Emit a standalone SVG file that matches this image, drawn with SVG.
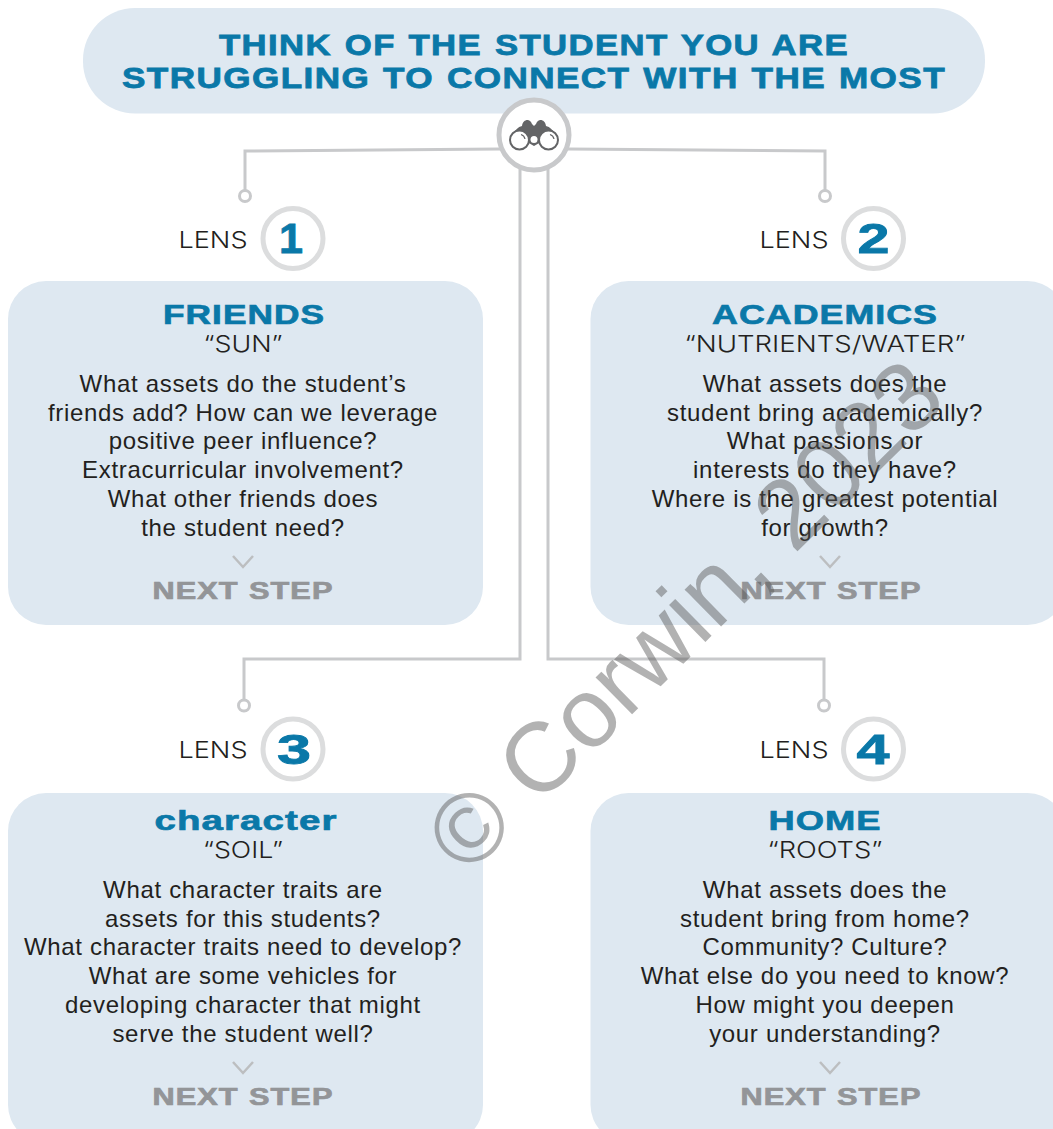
<svg xmlns="http://www.w3.org/2000/svg" width="1053" height="1129" viewBox="0 0 1053 1129">
<style>
text{font-family:"Liberation Sans",Arial,sans-serif;text-anchor:middle}
.box{fill:#dee8f1}
.wire{fill:none;stroke:#c8c9cb;stroke-width:3}
.title{font-size:30px;font-weight:bold;fill:#0a78a8;stroke:#0a78a8;stroke-width:.8px;letter-spacing:1.2px;word-spacing:1.5px}
.head{font-size:28px;font-weight:bold;fill:#0a78a8;stroke:#0a78a8;stroke-width:.7px;letter-spacing:.8px}
.sub{font-family:Inter,"Liberation Sans",sans-serif;font-weight:300;font-size:22.5px;fill:#231f20}
.body{font-size:24px;letter-spacing:.68px;fill:#231f20}
.lens{font-family:Inter,"Liberation Sans",sans-serif;font-weight:300;font-size:22.5px;fill:#231f20}
.num{font-size:42px;font-weight:bold;fill:#0a78a8;stroke:#0a78a8;stroke-width:.8px}
.ring{fill:#fff;stroke:#dcddde;stroke-width:5}
.next{font-size:23px;font-weight:bold;fill:#939598;stroke:#939598;stroke-width:.7px;letter-spacing:.8px;word-spacing:.5px}
.chev{fill:none;stroke:#bcbec0;stroke-width:2.5}
.dot{fill:#fff;stroke:#c8c9cb;stroke-width:3}
</style>
<g id="title">
<rect class="box" x="83" y="8" width="902" height="105.500" rx="52"/>
<text class="title" x="534" y="55" textLength="630" lengthAdjust="spacingAndGlyphs">THINK OF THE STUDENT YOU ARE</text>
<text class="title" x="534" y="87.500" textLength="824" lengthAdjust="spacingAndGlyphs">STRUGGLING TO CONNECT WITH THE MOST</text>
</g>
<g id="connectors">
<path class="wire" d="M245 190V151L500 149"/>
<path class="wire" d="M568 149L825 151V190"/>
<path class="wire" d="M520 165V659H244V700"/>
<path class="wire" d="M548 165V659H824V700"/>
<circle class="dot" cx="245" cy="196" r="5.500"/>
<circle class="dot" cx="825" cy="196" r="5.500"/>
<circle class="dot" cx="244" cy="705.500" r="5.500"/>
<circle class="dot" cx="824" cy="705.500" r="5.500"/>
</g>
<g id="hub">
<circle cx="534" cy="135" r="35" fill="#fff" stroke="#c8c9cb" stroke-width="5"/>
<path d="M513 134C515 130 518 127 522 126C523 119 530 118 532 124L534 126L536 124C538 118 545 119 546 126C550 127 553 130 555 134L534 146Z" fill="#636466"/>
<circle cx="519.500" cy="140" r="9.500" fill="#fff" stroke="#636466" stroke-width="2"/>
<circle cx="548.500" cy="140" r="9.500" fill="#fff" stroke="#636466" stroke-width="2"/>
<path d="M521 134.500A6 6 0 0 1 525 139M550 134.500A6 6 0 0 1 554 139" fill="none" stroke="#636466" stroke-width="1.200"/>
<circle cx="534" cy="139.500" r="3.500" fill="#fff"/>
</g>
<g id="lens1">
<text class="lens" x="213" y="248" textLength="69" lengthAdjust="spacingAndGlyphs">LENS</text>
<circle class="ring" cx="293" cy="238.500" r="30"/>
<text class="num" x="291" y="253" textLength="24" lengthAdjust="spacingAndGlyphs">1</text>
</g>
<g id="lens2">
<text class="lens" x="794" y="248" textLength="69" lengthAdjust="spacingAndGlyphs">LENS</text>
<circle class="ring" cx="873.500" cy="238.500" r="30"/>
<text class="num" x="873.500" y="253" textLength="32" lengthAdjust="spacingAndGlyphs">2</text>
</g>
<g id="lens3">
<text class="lens" x="213" y="758" textLength="69" lengthAdjust="spacingAndGlyphs">LENS</text>
<circle class="ring" cx="293" cy="749" r="30"/>
<text class="num" x="294" y="764" textLength="34" lengthAdjust="spacingAndGlyphs">3</text>
</g>
<g id="lens4">
<text class="lens" x="794" y="758" textLength="69" lengthAdjust="spacingAndGlyphs">LENS</text>
<circle class="ring" cx="873.500" cy="749" r="30"/>
<text class="num" x="873" y="764" textLength="33" lengthAdjust="spacingAndGlyphs">4</text>
</g>
<g id="friends">
<rect class="box" x="8" y="281" width="475" height="344" rx="38"/>
<text class="head" x="244" y="324" textLength="162" lengthAdjust="spacingAndGlyphs">FRIENDS</text>
<text class="sub" x="243" y="352" textLength="79" lengthAdjust="spacingAndGlyphs">“SUN”</text>
<text class="body" x="243" y="392">What assets do the student’s</text>
<text class="body" x="243" y="421">friends add? How can we leverage</text>
<text class="body" x="243" y="449">positive peer influence?</text>
<text class="body" x="243" y="478">Extracurricular involvement?</text>
<text class="body" x="243" y="507">What other friends does</text>
<text class="body" x="243" y="536">the student need?</text>
<path class="chev" d="M233 556L243 567L253 556"/>
<text class="next" x="243" y="599" textLength="181" lengthAdjust="spacingAndGlyphs">NEXT STEP</text>
</g>
<g id="academics">
<rect class="box" x="590.500" y="281" width="475" height="344" rx="38"/>
<text class="head" x="825" y="324" textLength="226" lengthAdjust="spacingAndGlyphs">ACADEMICS</text>
<text class="sub" x="825" y="352" textLength="281" lengthAdjust="spacingAndGlyphs">“NUTRIENTS/WATER”</text>
<text class="body" x="825" y="392">What assets does the</text>
<text class="body" x="825" y="421">student bring academically?</text>
<text class="body" x="825" y="449">What passions or</text>
<text class="body" x="825" y="478">interests do they have?</text>
<text class="body" x="825" y="507">Where is the greatest potential</text>
<text class="body" x="825" y="536">for growth?</text>
<path class="chev" d="M820 556L830 567L840 556"/>
<text class="next" x="831" y="599" textLength="181" lengthAdjust="spacingAndGlyphs">NEXT STEP</text>
</g>
<g id="character">
<rect class="box" x="8" y="793" width="475" height="350" rx="38"/>
<text class="head" x="246" y="830" textLength="183" lengthAdjust="spacingAndGlyphs">character</text>
<text class="sub" x="243" y="858" textLength="80" lengthAdjust="spacingAndGlyphs">“SOIL”</text>
<text class="body" x="243" y="898">What character traits are</text>
<text class="body" x="243" y="927">assets for this students?</text>
<text class="body" x="243" y="955">What character traits need to develop?</text>
<text class="body" x="243" y="984">What are some vehicles for</text>
<text class="body" x="243" y="1013">developing character that might</text>
<text class="body" x="243" y="1042">serve the student well?</text>
<path class="chev" d="M233 1062L243 1073L253 1062"/>
<text class="next" x="243" y="1105" textLength="181" lengthAdjust="spacingAndGlyphs">NEXT STEP</text>
</g>
<g id="home">
<rect class="box" x="590.500" y="793" width="475" height="350" rx="38"/>
<text class="head" x="825" y="830" textLength="113" lengthAdjust="spacingAndGlyphs">HOME</text>
<text class="sub" x="825" y="858" textLength="115" lengthAdjust="spacingAndGlyphs">“ROOTS”</text>
<text class="body" x="825" y="898">What assets does the</text>
<text class="body" x="825" y="927">student bring from home?</text>
<text class="body" x="825" y="955">Community? Culture?</text>
<text class="body" x="825" y="984">What else do you need to know?</text>
<text class="body" x="825" y="1013">How might you deepen</text>
<text class="body" x="825" y="1042">your understanding?</text>
<path class="chev" d="M820 1062L830 1073L840 1062"/>
<text class="next" x="831" y="1105" textLength="181" lengthAdjust="spacingAndGlyphs">NEXT STEP</text>
</g>
<text id="watermark" x="0" y="0" transform="translate(469 826) rotate(-44.6)" style="text-anchor:start;font-size:98px" fill="#555" fill-opacity=".45" dx="-37" dy="35">© Corwin, 2023</text>
</svg>
